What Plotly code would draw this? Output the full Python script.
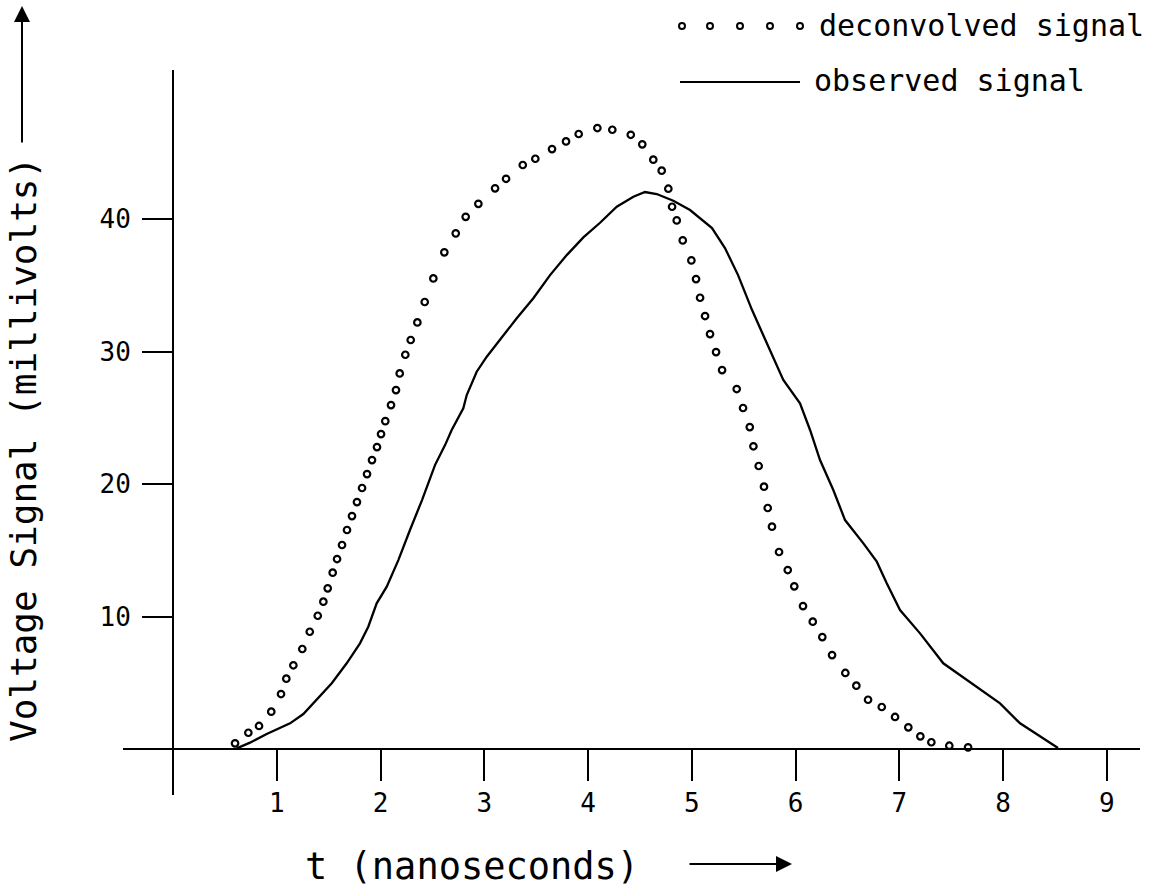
import plotly.graph_objects as go

# ---- data ----
t_deconv = [0.598, 0.726, 0.829, 0.947, 1.041, 1.092, 1.160, 1.246, 1.318, 1.395,
            1.449, 1.491, 1.539, 1.581, 1.629, 1.677, 1.725, 1.773, 1.822, 1.870,
            1.918, 1.966, 2.005, 2.046, 2.101, 2.149, 2.185, 2.239, 2.291, 2.355,
            2.426, 2.509, 2.615, 2.725, 2.821, 2.943, 3.104, 3.210, 3.371, 3.492,
            3.653, 3.788, 3.910, 4.090, 4.234, 4.412, 4.523, 4.629, 4.710, 4.774,
            4.810, 4.855, 4.913, 4.996, 5.041, 5.080, 5.128, 5.176, 5.234, 5.292,
            5.433, 5.494, 5.559, 5.594, 5.645, 5.696, 5.732, 5.773, 5.841, 5.925,
            5.988, 6.072, 6.166, 6.258, 6.352, 6.480, 6.586, 6.699, 6.831, 6.959,
            7.087, 7.203, 7.309, 7.482, 7.663]
v_deconv = [0.43, 1.23, 1.74, 2.82, 4.15, 5.31, 6.32, 7.55, 8.85, 10.06,
            11.12, 12.13, 13.31, 14.34, 15.40, 16.53, 17.58, 18.64, 19.70, 20.75,
            21.81, 22.79, 23.77, 24.75, 25.96, 27.09, 28.35, 29.76, 30.87, 32.20,
            33.74, 35.52, 37.49, 38.92, 40.17, 41.15, 42.32, 43.04, 44.08, 44.55,
            45.28, 45.86, 46.42, 46.87, 46.74, 46.36, 45.64, 44.48, 43.65, 42.29,
            40.93, 39.90, 38.39, 36.88, 35.47, 34.06, 32.68, 31.32, 29.96, 28.60,
            27.17, 25.74, 24.30, 22.85, 21.36, 19.80, 18.19, 16.78, 14.87, 13.51,
            12.28, 10.79, 9.61, 8.45, 7.09, 5.74, 4.78, 3.72, 3.17, 2.42,
            1.64, 0.96, 0.51, 0.25, 0.13]

t_obs = [0.614, 0.742, 0.903, 1.128, 1.256, 1.385, 1.530, 1.674, 1.802, 1.882,
         1.963, 2.060, 2.172, 2.284, 2.400, 2.525, 2.622, 2.686, 2.798, 2.831,
         2.927, 3.024, 3.168, 3.313, 3.473, 3.634, 3.795, 3.955, 4.116, 4.277,
         4.437, 4.549, 4.662, 4.822, 4.983, 5.080, 5.195, 5.320, 5.446, 5.581,
         5.735, 5.882, 6.043, 6.140, 6.236, 6.364, 6.477, 6.654, 6.783, 6.879,
         7.007, 7.200, 7.424, 7.650, 7.971, 8.164, 8.453, 8.530]
v_obs = [0.05, 0.48, 1.13, 1.94, 2.64, 3.70, 4.96, 6.47, 7.98, 9.23,
         11.00, 12.25, 14.26, 16.53, 18.79, 21.43, 22.94, 24.08, 25.71, 26.72,
         28.48, 29.61, 31.07, 32.51, 34.02, 35.77, 37.28, 38.62, 39.72, 40.93,
         41.68, 42.04, 41.89, 41.38, 40.68, 40.05, 39.32, 37.81, 35.77, 33.13,
         30.49, 27.85, 26.09, 24.08, 21.81, 19.55, 17.28, 15.52, 14.14, 12.51,
         10.49, 8.73, 6.47, 5.21, 3.45, 1.94, 0.43, 0.08]

x_ticks = [1, 2, 3, 4, 5, 6, 7, 8, 9]
x_tick_labels = ["1", "2", "3", "4", "5", "6", "7", "8", "9"]
y_ticks = [10, 20, 30, 40]
y_tick_labels = ["10", "20", "30", "40"]

legend_deconv = "deconvolved signal"
legend_obs = "observed signal"
x_title = "t (nanoseconds)"
y_title = "Voltage Signal (millivolts)"

# ---- layout helpers (page pixels -> paper fractions) ----
W, H = 1162, 895
FONT = "DejaVu Sans Mono"


def px(x):
    return x / W


def py(y):
    return 1 - y / H


fig = go.Figure()

fig.add_trace(go.Scatter(
    x=t_obs, y=v_obs, mode="lines",
    line=dict(color="black", width=2.3),
    showlegend=False, hoverinfo="skip"))

fig.add_trace(go.Scatter(
    x=t_deconv, y=v_deconv, mode="markers",
    marker=dict(symbol="circle-open", size=6.5, color="black",
                line=dict(width=2.2, color="black")),
    showlegend=False, hoverinfo="skip"))

shapes = []
# legend sample: five open circles
for cx in [682, 710, 740, 770, 800]:
    r = 3.0
    shapes.append(dict(type="circle", xref="paper", yref="paper",
                       x0=px(cx - r), x1=px(cx + r), y0=py(26 + r), y1=py(26 - r),
                       line=dict(color="black", width=2)))
# legend sample: line
shapes.append(dict(type="line", xref="paper", yref="paper",
                   x0=px(680), x1=px(800), y0=py(82), y1=py(82),
                   line=dict(color="black", width=2)))

annotations = [
    dict(text=legend_deconv, xref="paper", yref="paper", x=px(817), y=py(26),
         xanchor="left", yanchor="middle", showarrow=False,
         font=dict(family=FONT, size=30, color="black")),
    dict(text=legend_obs, xref="paper", yref="paper", x=px(812), y=py(81),
         xanchor="left", yanchor="middle", showarrow=False,
         font=dict(family=FONT, size=30, color="black")),
    dict(text=x_title, xref="paper", yref="paper", x=px(472), y=py(866),
         xanchor="center", yanchor="middle", showarrow=False,
         font=dict(family=FONT, size=37, color="black")),
    dict(text=y_title, xref="paper", yref="paper", x=px(23), y=py(450),
         xanchor="center", yanchor="middle", showarrow=False, textangle=-90,
         font=dict(family=FONT, size=36, color="black")),
    # x title arrow
    dict(text="", xref="paper", yref="paper", x=px(792), y=py(864),
         ax=-104, ay=0, showarrow=True, arrowhead=2, arrowsize=1.6,
         arrowwidth=2, arrowcolor="black"),
    # y title arrow
    dict(text="", xref="paper", yref="paper", x=px(22), y=py(6),
         ax=0, ay=138, showarrow=True, arrowhead=2, arrowsize=1.6,
         arrowwidth=2, arrowcolor="black"),
]

fig.update_layout(
    width=W, height=H,
    margin=dict(l=0, r=0, t=0, b=0),
    paper_bgcolor="white", plot_bgcolor="white",
    shapes=shapes, annotations=annotations,
    xaxis=dict(domain=[px(123), px(1140)], range=[-0.482, 9.32],
               anchor="free", position=py(749),
               showline=True, linecolor="black", linewidth=2,
               showgrid=False, zeroline=False,
               ticks="outside", ticklen=31, tickwidth=2, tickcolor="black",
               tickvals=x_ticks, ticktext=x_tick_labels,
               tickfont=dict(family=FONT, size=26, color="black")),
    yaxis=dict(domain=[py(795), py(70)], range=[-3.47, 51.25],
               anchor="free", position=px(173),
               showline=True, linecolor="black", linewidth=2,
               showgrid=False, zeroline=False,
               ticks="outside", ticklen=30, tickwidth=2, tickcolor="black",
               ticklabelstandoff=6,
               tickvals=y_ticks, ticktext=y_tick_labels,
               tickfont=dict(family=FONT, size=26, color="black")),
)

fig.write_html("out.html", config={"displayModeBar": False},
               post_script="document.body.style.margin='0';document.body.style.overflow='hidden';")
